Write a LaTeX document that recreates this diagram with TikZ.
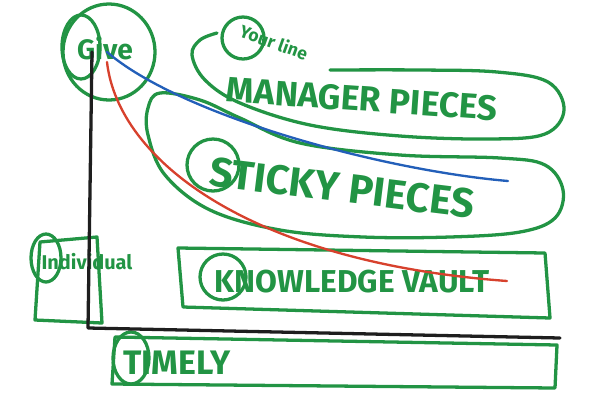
\documentclass[tikz,border=0pt]{standalone}
\usepackage{fontspec}
\setmainfont{Fira Sans}
\usepackage{xcolor}
\usepackage{tikz}
\usetikzlibrary{calc}

\definecolor{marker}{RGB}{34,148,68}
\definecolor{curveblue}{RGB}{35,95,185}
\definecolor{curvered}{RGB}{215,65,45}
\definecolor{axisblack}{RGB}{30,30,30}

\begin{document}
\begin{tikzpicture}[
  x=0.03cm, y=-0.03cm,
  pen/.style={draw=marker, line width=2.8pt, line cap=round, line join=round},
  word/.style={text=marker, inner sep=0pt, font=\bfseries},
  axis/.style={draw=axisblack, line width=2.8pt, line cap=round, line join=round},
  curve/.style={line width=2pt, line cap=round}
]
  \useasboundingbox (0,0) rectangle (600,416);

  % Give circle (top of the axis)
  \draw[pen] (109,52) ellipse [x radius=46, y radius=48];
  \draw[pen] (81,47) ellipse [x radius=19, y radius=32];
  \node[word, font=\bfseries\fontsize{24}{24}\selectfont] (give) at (105,48) {Give};

  % Your line manager pieces
  \draw[pen] plot[smooth, tension=0.6] coordinates {(330,70) (420,70) (497,72) (548,82) (564,110) (545,134) (490,139) (400,136) (310,125) (240,103) (205,80) (192,55) (200,40) (217,33)};
  \draw[pen] (243,38) circle [radius=21];
  \node[word, rotate=-20, font=\bfseries\fontsize{15}{15}\selectfont] (yourline) at (274,42) {Your line};
  \node[word, rotate=-4, font=\bfseries\fontsize{30}{30}\selectfont] (manager) at (362,99) {MANAGER PIECES};

  % Sticky pieces
  \draw[pen] plot[smooth cycle, tension=0.6] coordinates {(160,93) (200,100) (240,118) (300,143) (400,155) (500,158) (545,165) (563,190) (555,218) (520,232) (450,237) (363,237) (280,230) (210,210) (165,175) (148,135) (148,108)};
  \draw[pen] (213,165) circle [radius=26];
  \node[word, rotate=-7, font=\bfseries\fontsize{35}{35}\selectfont] (sticky) at (342,188) {STICKY PIECES};

  % Individual
  \draw[pen] (40,242) -- (97,237) -- (102,323) -- (35,320) -- cycle;
  \draw[pen] (46,258) ellipse [x radius=15, y radius=24];
  \node[word, font=\bfseries\fontsize{17}{17}\selectfont] (individual) at (87,262) {Individual};

  % Knowledge vault
  \draw[pen] (178,248) -- (545,253) -- (550,318) -- (183,307) -- cycle;
  \draw[pen] (223,277) circle [radius=23];
  \node[word, font=\bfseries\fontsize{27}{27}\selectfont] (knowledge) at (352,282) {KNOWLEDGE VAULT};

  % Timely
  \draw[pen] (115,337) -- (557,345) -- (555,388) -- (112,384) -- cycle;
  \draw[pen] (131,358) ellipse [x radius=18, y radius=26];
  \node[word, font=\bfseries\fontsize{29}{29}\selectfont] (timely) at (177,363) {TIMELY};

  % Axes
  \coordinate (top) at (92,52);
  \coordinate (corner) at (88,328);
  \coordinate (right) at (560,338);
  \draw[axis] (top) -- (corner) -- (right);

  % Curves out of Give
  \coordinate (bluestart) at (107,52);
  \coordinate (blueend) at (508,181);
  \coordinate (redstart) at (107,62);
  \coordinate (redend) at (507,281);
  \draw[curve, curveblue] (bluestart) .. controls (180,115) and (380,170) .. (blueend);
  \draw[curve, curvered] (redstart) .. controls (118,160) and (250,262) .. (redend);

\end{tikzpicture}
\end{document}
